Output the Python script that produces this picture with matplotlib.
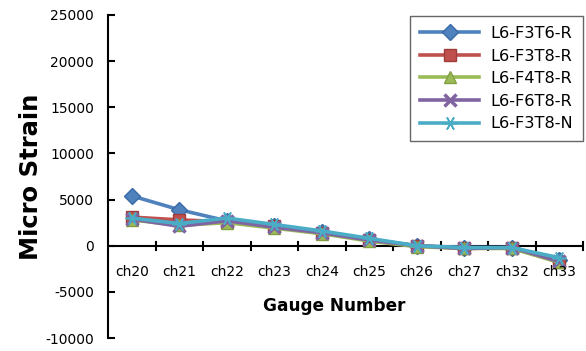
import matplotlib
matplotlib.use("Agg")
import matplotlib.pyplot as plt
import numpy as np

gauges = ["ch20", "ch21", "ch22", "ch23", "ch24", "ch25", "ch26", "ch27", "ch32", "ch33"]
f3t6_r = [5400, 3900, 2700, 2100, 1500, 700, 0, -200, -200, -1500]
f3t8_r = [3100, 2800, 2600, 2100, 1400, 600, 0, -300, -200, -1800]
f4t8_r = [2800, 2200, 2500, 1900, 1300, 500, -100, -300, -300, -1800]
f6t8_r = [2900, 2100, 2700, 2000, 1400, 600, 0, -300, -200, -1700]
f3t8_n = [3000, 2400, 3000, 2300, 1600, 800, 0, -200, -200, -1300]
series_names = ["L6-F3T6-R", "L6-F3T8-R", "L6-F4T8-R", "L6-F6T8-R", "L6-F3T8-N"]
y_ticks = [-10000, -5000, 0, 5000, 10000, 15000, 20000, 25000]

plt.rcParams['font.family'] = ['DejaVu Sans']

fig = plt.figure(figsize=(5.86, 3.51), dpi=100)
ax = fig.add_axes([108/586, 13/351, 475/586, 323/351])

x = np.arange(len(gauges))
styles = [
    dict(color="#4F81BD", marker="D", ms=8, mec="#3A6BA8"),
    dict(color="#C0504D", marker="s", ms=8, mec="#A03C3A"),
    dict(color="#9BBB59", marker="^", ms=9, mec="#82A040"),
    dict(color="#8064A2", marker="x", ms=8, mew=2.5),
    dict(color="#4BACC6", marker=(6, 2, 90), ms=10, mew=1.2),
]
data = [f3t6_r, f3t8_r, f4t8_r, f6t8_r, f3t8_n]
for vals, name, st in zip(data, series_names, styles):
    ax.plot(x, vals, lw=2.6, label=name, **st)

ax.set_xlim(-0.5, len(gauges) - 0.5)
ax.set_ylim(-10000, 25000)
ax.set_yticks(y_ticks)
ax.set_yticklabels([str(v) for v in y_ticks], fontsize=10)
ax.tick_params(axis='y', direction='in', length=5, width=1.5, pad=10)

for s in ["top", "right", "bottom"]:
    ax.spines[s].set_visible(False)
ax.spines["left"].set_linewidth(1.5)
ax.axhline(0, color="black", lw=1.5, zorder=1)

# category boundary ticks on the zero line
ax.set_xticks([])
for b in np.arange(0.5, len(gauges), 1.0):
    ax.plot([b, b], [-450, 450], color="black", lw=1.5, zorder=1, clip_on=False)
for xi, g in zip(x, gauges):
    ax.text(xi, -2820, g, ha="center", va="center", fontsize=10)

ax.text(4.26, -6500, "Gauge Number", ha="center", va="center", fontsize=12.2, fontweight="bold")
ax.set_ylabel("Micro Strain", fontsize=17.5, fontweight="bold", labelpad=2)

leg = ax.legend(loc="upper right", bbox_to_anchor=(1.0, 0.996), borderaxespad=0,
                fontsize=11.6, frameon=True, fancybox=False, edgecolor="#404040",
                handlelength=3.7, borderpad=0.6, labelspacing=0.47, handletextpad=0.7)
leg.get_frame().set_linewidth(1.0)

fig.savefig("out.png", dpi=100)
